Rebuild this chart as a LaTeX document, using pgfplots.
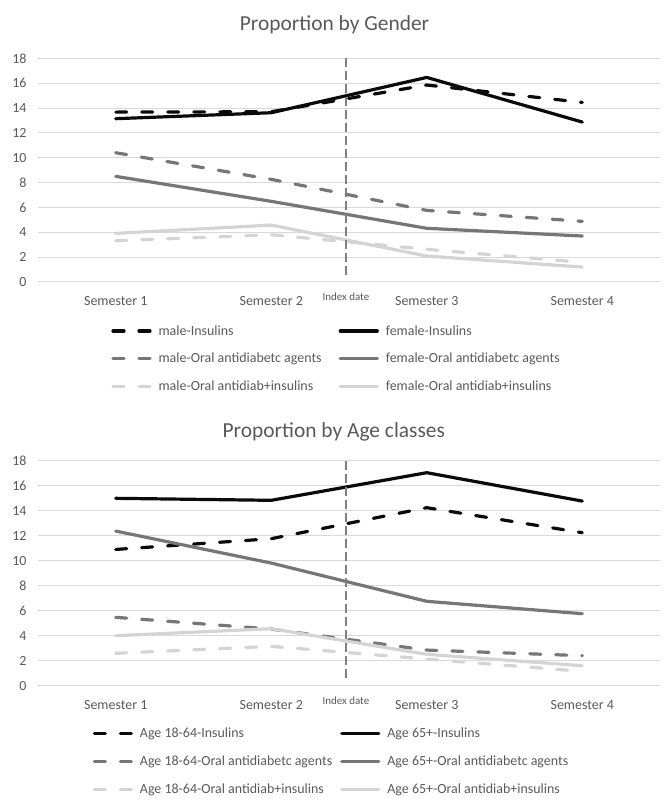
\documentclass[border=0pt]{standalone}
\usepackage{fontspec}
\setmainfont{Carlito}
\usepackage{pgfplots}
\pgfplotsset{compat=1.18}
\definecolor{cblack}{HTML}{0A0A0A}
\definecolor{cgray}{HTML}{767676}
\definecolor{clight}{HTML}{D4D4D4}
\definecolor{gridgray}{HTML}{D9D9D9}
\definecolor{txtgray}{HTML}{595959}
\pgfplotsset{
  base/.style={
    scale only axis, width=622bp, clip=false,
    xmin=-0.5, xmax=3.5, ymin=0, ymax=18,
    xtick={0,1,2,3},
    xticklabels={Semester 1,Semester 2,Semester 3,Semester 4},
    ytick={0,2,...,18},
    axis line style={draw=none},
    major tick length=0pt,
    ymajorgrids, grid style={gridgray, line width=1bp},
    /pgf/number format/assume math mode=true,
    ticklabel style={font=\fontsize{14}{16}\selectfont, text=txtgray},
    yticklabel style={xshift=-8bp},
    xticklabel style={yshift=-11bp},
    title style={font=\fontsize{21.5}{24}\selectfont, text=txtgray, anchor=center},
    legend columns=2,
    legend cell align=left,
    legend style={draw=none, fill=none, inner sep=0pt, outer sep=0pt,
      anchor=north west, font=\fontsize{14}{16}\selectfont, text=txtgray,
      row sep=12.5bp,
      /tikz/every odd column/.append style={column sep=5bp}},
    legend image code/.code={\draw[#1, line cap=round] (0bp,0bp) -- (37bp,0bp);},
    every axis plot/.append style={line width=3.2bp, line cap=round, line join=round},
  },
  dsh/.style={dash pattern=on 11bp off 15bp},
}
\begin{document}
\begin{tikzpicture}
\path[use as bounding box] (0,0) rectangle (669bp,809bp);
% top chart
\begin{axis}[base, at={(38bp,527bp)}, anchor=south west, height=223.7bp,
  title={Proportion by Gender},
  title style={at={(axis description cs:0.4767,1.122)}},
  legend style={at={(axis description cs:0.118,-0.185)},
    /tikz/every even column/.append style={column sep=15bp}}]
\addplot[cblack, dsh] coordinates {(0,13.67) (1,13.70) (2,15.85) (3,14.45)};
\addlegendentry{male-Insulins}
\addplot[cblack] coordinates {(0,13.14) (1,13.62) (2,16.46) (3,12.87)};
\addlegendentry{female-Insulins}
\addplot[cgray, dsh] coordinates {(0,10.40) (1,8.26) (2,5.76) (3,4.88)};
\addlegendentry{male-Oral antidiabetc agents}
\addplot[cgray] coordinates {(0,8.50) (1,6.49) (2,4.32) (3,3.70)};
\addlegendentry{female-Oral antidiabetc agents}
\addplot[clight, dsh] coordinates {(0,3.32) (1,3.80) (2,2.63) (3,1.58)};
\addlegendentry{male-Oral antidiab+insulins}
\addplot[clight] coordinates {(0,3.91) (1,4.58) (2,2.09) (3,1.20)};
\addlegendentry{female-Oral antidiab+insulins}
\draw[gray, line width=1.3bp, dash pattern=on 9bp off 4bp] (axis cs:1.48,0.6) -- (axis cs:1.48,18);
\node[font=\fontsize{11}{13}\selectfont, text=txtgray] at (axis cs:1.48,0) [yshift=-15bp] {Index date};
\end{axis}
% bottom chart
\begin{axis}[base, at={(38bp,123.3bp)}, anchor=south west, height=225bp,
  title={Proportion by Age classes},
  title style={at={(axis description cs:0.4756,1.10)}},
  legend style={at={(axis description cs:0.088,-0.18)},
    /tikz/every even column/.append style={column sep=6bp}}]
\addplot[cblack, dsh] coordinates {(0,10.90) (1,11.76) (2,14.24) (3,12.24)};
\addlegendentry{Age 18-64-Insulins}
\addplot[cblack] coordinates {(0,14.99) (1,14.83) (2,17.04) (3,14.77)};
\addlegendentry{Age 65+-Insulins}
\addplot[cgray, dsh] coordinates {(0,5.47) (1,4.53) (2,2.85) (3,2.40)};
\addlegendentry{Age 18-64-Oral antidiabetc agents}
\addplot[cgray] coordinates {(0,12.37) (1,9.81) (2,6.75) (3,5.76)};
\addlegendentry{Age 65+-Oral antidiabetc agents}
\addplot[clight, dsh] coordinates {(0,2.59) (1,3.15) (2,2.13) (3,1.15)};
\addlegendentry{Age 18-64-Oral antidiab+insulins}
\addplot[clight] coordinates {(0,4.00) (1,4.56) (2,2.51) (3,1.60)};
\addlegendentry{Age 65+-Oral antidiab+insulins}
\draw[gray, line width=1.3bp, dash pattern=on 9bp off 4bp] (axis cs:1.48,0.6) -- (axis cs:1.48,18);
\node[font=\fontsize{11}{13}\selectfont, text=txtgray] at (axis cs:1.48,0) [yshift=-15bp] {Index date};
\end{axis}
\end{tikzpicture}
\end{document}
